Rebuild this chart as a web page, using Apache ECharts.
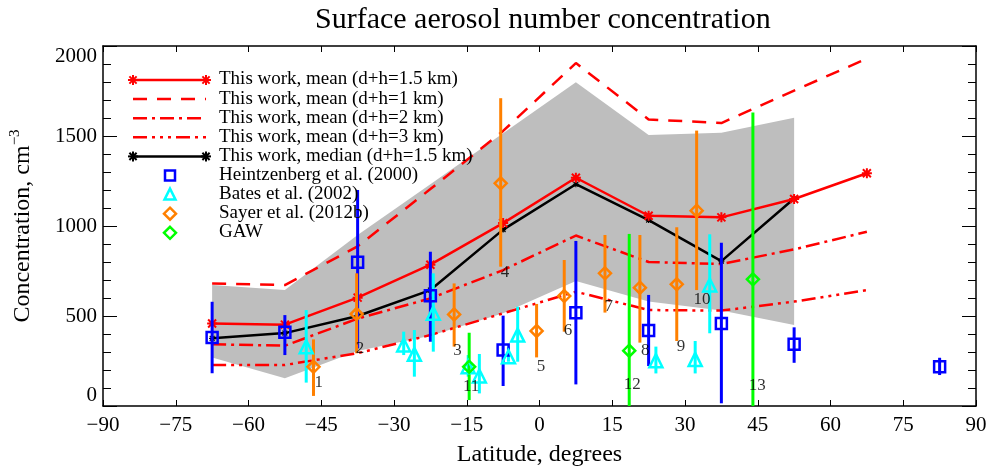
<!DOCTYPE html>
<html>
<head>
<meta charset="utf-8">
<script src="https://cdn.jsdelivr.net/npm/echarts@6/dist/echarts.min.js"></script>
<style>
  html, body { margin: 0; padding: 0; background: #fff; }
  #main { width: 990px; height: 466px; }
</style>
</head>
<body>
<div id="main"></div>
<script>
// model latitude bins (15 degree bands)
var binLat = [-67.5, -52.5, -37.5, -22.5, -7.5, 7.5, 22.5, 37.5, 52.5, 67.5];
var mean15 = [458, 452, 602, 785, 1016, 1268, 1057, 1048, 1150, 1293];
var mean1 = [681, 672, 887, 1205, 1528, 1905, 1592, 1572, 1752, 1930];
var mean2 = [343, 335, 485, 598, 755, 947, 800, 789, 870, 968];
var mean3 = [228, 228, 293, 394, 515, 635, 533, 530, 580, 644];
var medLat = [-67.5, -52.5, -37.5, -22.5, -7.5, 7.5, 22.5, 37.5, 52.5];
var median15 = [376, 405, 500, 644, 980, 1232, 1033, 805, 1153];
var bandUpper = [672, 644, 950, 1232, 1515, 1798, 1506, 1518, 1602];
var bandLower = [270, 154, 305, 390, 515, 694, 580, 530, 450];

// Heintzenberg et al. (2000): lat, value, low, high
var heinLat = [-67.5, -52.5, -37.5, -22.5, -7.5, 7.5, 22.5, 37.5, 52.5, 82.5];
var heinVal = [380, 410, 798, 613, 311, 518, 420, 459, 343, 218];
var heinLo = [182, 283, 320, 357, 111, 120, 222, 15, 240, 172];
var heinHi = [579, 505, 1200, 857, 502, 917, 617, 907, 437, 268];

// Bates et al. (2002)
var batesLat = [-48.1, -28.0, -25.8, -21.9, -14.7, -12.4, -6.4, -4.5, 24.0, 32.1, 35.1];
var batesVal = [329, 339, 287, 515, 218, 167, 274, 394, 252, 259, 672];
var batesLo = [130, 283, 163, 302, 163, 70, 246, 246, 181, 181, 404];
var batesHi = [533, 413, 422, 737, 283, 289, 330, 552, 330, 361, 954];

// Sayer et al. (2012b), sites 1-10
var sayerLat = [-46.6, -37.7, -17.6, -8.0, -0.6, 5.1, 13.5, 20.7, 28.3, 32.4];
var sayerVal = [218, 511, 509, 1237, 417, 611, 737, 657, 676, 1085];
var sayerLo = [56, 293, 330, 774, 270, 413, 519, 352, 361, 644];
var sayerHi = [370, 737, 681, 1710, 567, 811, 950, 950, 993, 1530];

// GAW, sites 11-13
var gawLat = [-14.5, 18.5, 44.0];
var gawVal = [218, 307, 704];
var gawLo = [33, 0, 0];
var gawHi = [407, 956, 1630];

// site number labels (text, lat, value at label centre)
var siteNames = ['1', '2', '3', '4', '5', '6', '7', '8', '9', '10', '11', '12', '13'];
var siteLabLat = [-45.5, -37.0, -16.9, -7.1, 0.3, 5.9, 14.3, 21.8, 29.2, 33.5, -14.1, 19.1, 44.9];
var siteLabVal = [133, 322, 306, 744, 217, 417, 550, 306, 333, 594, 106, 117, 111];

var RED = '#ff0000', BLUE = '#0000ff', CYAN = '#00ffff', ORANGE = '#ff8000', GREEN = '#00ff00';
var FONT = 'Liberation Serif';
var ASTERISK = 'path://M4,0L6,0L6,10L4,10ZM0,4L10,4L10,6L0,6Z' +
  'M0.3,1.7L1.7,0.3L9.7,8.3L8.3,9.7ZM8.3,0.3L9.7,1.7L1.7,9.7L0.3,8.3Z';

function zip2(a, b) {
  return a.map(function (v, i) { return [v, b[i]]; });
}
function zip4(a, b, c, d) {
  return a.map(function (v, i) { return [v, b[i], c[i], d[i]]; });
}

function errBars(name, color, lat, val, lo, hi) {
  return {
    name: name + ' err',
    type: 'custom',
    clip: true,
    z: 4,
    data: zip4(lat, val, lo, hi),
    encode: { x: 0, y: 1 },
    renderItem: function (params, api) {
      var p1 = api.coord([api.value(0), api.value(2)]);
      var p2 = api.coord([api.value(0), api.value(3)]);
      return {
        type: 'line',
        shape: { x1: p1[0], y1: p1[1], x2: p2[0], y2: p2[1] },
        style: { stroke: color, lineWidth: 3 }
      };
    }
  };
}

function marks(name, color, symbol, size, lat, val) {
  return {
    name: name,
    type: 'scatter',
    z: 5,
    symbol: symbol,
    symbolSize: size,
    data: zip2(lat, val),
    itemStyle: { color: 'rgba(0,0,0,0)', borderColor: color, borderWidth: 2.5, opacity: 1 }
  };
}

function modelLine(name, data, dash, color, lat, sym, symSize) {
  return {
    name: name,
    type: 'line',
    z: 3,
    data: zip2(lat || binLat, data),
    showSymbol: !!sym,
    symbol: sym || 'none',
    symbolSize: symSize || 0,
    itemStyle: { color: color || RED },
    lineStyle: { color: color || RED, width: 2.5, type: dash }
  };
}

var bandSeries = {
  type: 'custom',
  z: 1,
  data: [0],
  renderItem: function (params, api) {
    var pts = [];
    medLat.forEach(function (x, i) { pts.push(api.coord([x, bandUpper[i]])); });
    for (var i = medLat.length - 1; i >= 0; i--) pts.push(api.coord([medLat[i], bandLower[i]]));
    return { type: 'polygon', shape: { points: pts }, style: { fill: '#bebebe' } };
  }
};

var labelSeries = {
  type: 'scatter',
  z: 6,
  symbolSize: 0,
  data: siteNames.map(function (n, i) { return { name: n, value: [siteLabLat[i], siteLabVal[i]] }; }),
  label: {
    show: true, position: 'inside', formatter: '{b}',
    color: '#000', fontFamily: FONT, fontSize: 17
  }
};

// legend drawn by hand (line samples with end markers)
var legendRows = [
  { text: 'This work, mean (d+h=1.5 km)', kind: 'line', color: RED, dash: 'solid', ends: true },
  { text: 'This work, mean (d+h=1 km)', kind: 'line', color: RED, dash: [14, 10] },
  { text: 'This work, mean (d+h=2 km)', kind: 'line', color: RED, dash: [14, 5, 3, 5] },
  { text: 'This work, mean (d+h=3 km)', kind: 'line', color: RED, dash: [14, 5, 3, 5, 3, 5, 3, 5] },
  { text: 'This work, median (d+h=1.5 km)', kind: 'line', color: '#000', dash: 'solid', ends: true },
  { text: 'Heintzenberg et al. (2000)', kind: 'sym', color: BLUE, sym: 'rect' },
  { text: 'Bates et al. (2002)', kind: 'sym', color: CYAN, sym: 'triangle' },
  { text: 'Sayer et al. (2012b)', kind: 'sym', color: ORANGE, sym: 'diamond' },
  { text: 'GAW', kind: 'sym', color: GREEN, sym: 'diamond' }
];

function asteriskGraphic(cx, cy, color) {
  var g = [];
  var r = 5;
  [[r, 0], [0, r], [r * 0.72, r * 0.72], [r * 0.72, -r * 0.72]].forEach(function (d) {
    g.push({ type: 'line', shape: { x1: cx - d[0], y1: cy - d[1], x2: cx + d[0], y2: cy + d[1] },
      style: { stroke: color, lineWidth: 2 }, z: 100 });
  });
  return g;
}

function symGraphic(cx, cy, sym, color) {
  var pts;
  if (sym === 'rect') pts = [[cx - 5, cy - 5], [cx + 5, cy - 5], [cx + 5, cy + 5], [cx - 5, cy + 5]];
  else if (sym === 'triangle') pts = [[cx, cy - 6], [cx + 5.5, cy + 5], [cx - 5.5, cy + 5]];
  else pts = [[cx, cy - 6], [cx + 6, cy], [cx, cy + 6], [cx - 6, cy]];
  return { type: 'polygon', shape: { points: pts }, style: { fill: 'none', stroke: color, lineWidth: 2.5 }, z: 100 };
}

var legendGraphics = [];
legendRows.forEach(function (r, i) {
  var y = 80 + i * 19.1;
  if (r.kind === 'line') {
    legendGraphics.push({ type: 'line', shape: { x1: 133, y1: y, x2: 206, y2: y },
      style: { stroke: r.color, lineWidth: 2.5, lineDash: r.dash === 'solid' ? null : r.dash }, z: 100 });
    if (r.ends) {
      legendGraphics = legendGraphics.concat(asteriskGraphic(133, y, r.color), asteriskGraphic(206, y, r.color));
    }
  } else {
    legendGraphics.push(symGraphic(170, y, r.sym, r.color));
  }
  legendGraphics.push({ type: 'text', left: 219, top: y - 10, z: 100,
    style: { text: r.text, font: '19px "' + FONT + '"', fill: '#000' } });
});

function minus(v) { return String(v).replace('-', '\u2212'); }

var axisLineStyle = { color: '#000', width: 1.5 };

var option = {
  animation: false,
  backgroundColor: '#fff',
  title: {
    text: 'Surface aerosol number concentration',
    left: 310, top: 0,
    textStyle: { fontFamily: FONT, fontSize: 30, fontWeight: 'normal', color: '#000' }
  },
  grid: { left: 103, right: 14, top: 46, bottom: 60, outerBoundsMode: 'none', containLabel: false },
  xAxis: [{
    type: 'value', min: -90, max: 90, interval: 15,
    name: 'Latitude, degrees', nameLocation: 'middle', nameGap: 37,
    nameTextStyle: { fontFamily: FONT, fontSize: 24, color: '#000' },
    axisLine: { show: true, onZero: false, lineStyle: axisLineStyle },
    axisTick: { show: true, inside: true, length: 6, lineStyle: { color: '#000' } },
    axisLabel: { fontFamily: FONT, fontSize: 21, color: '#000', margin: 9, formatter: minus },
    splitLine: { show: false }
  }, {
    type: 'value', min: -90, max: 90, interval: 15, position: 'top',
    axisLine: { show: true, onZero: false, lineStyle: axisLineStyle },
    axisTick: { show: true, inside: true, length: 6, lineStyle: { color: '#000' } },
    axisLabel: { show: false },
    splitLine: { show: false }
  }],
  yAxis: [{
    type: 'value', min: 0, max: 2000, interval: 500,
    name: 'Concentration, cm{sup|\u22123}', nameLocation: 'middle', nameGap: 66, nameRotate: 90,
    nameTextStyle: { fontFamily: FONT, fontSize: 24, color: '#000',
      rich: { sup: { fontFamily: FONT, fontSize: 15, verticalAlign: 'top', padding: [0, 0, 14, 0] } } },
    axisLine: { show: true, onZero: false, lineStyle: axisLineStyle },
    axisTick: { show: true, inside: true, length: 14, lineStyle: { color: '#000' } },
    minorTick: { show: true, splitNumber: 5, length: 8, lineStyle: { color: '#000' } },
    axisLabel: { fontFamily: FONT, fontSize: 21, color: '#000', margin: 6,
      formatter: function (v) { return String(v); },
      verticalAlignMaxLabel: 'top', verticalAlignMinLabel: 'bottom' },
    splitLine: { show: false }
  }, {
    type: 'value', min: 0, max: 2000, interval: 500, position: 'right',
    axisLine: { show: true, onZero: false, lineStyle: axisLineStyle },
    axisTick: { show: true, inside: true, length: 14, lineStyle: { color: '#000' } },
    minorTick: { show: true, splitNumber: 5, length: 8, lineStyle: { color: '#000' } },
    axisLabel: { show: false },
    splitLine: { show: false }
  }],
  graphic: legendGraphics,
  series: [
    bandSeries,
    modelLine('mean 1 km', mean1, [14, 10]),
    modelLine('mean 2 km', mean2, [14, 5, 3, 5]),
    modelLine('mean 3 km', mean3, [14, 5, 3, 5, 3, 5, 3, 5]),
    modelLine('median 1.5 km', median15, 'solid', '#000', medLat, ASTERISK, 6),
    modelLine('mean 1.5 km', mean15, 'solid', RED, binLat, ASTERISK, 10),
    errBars('Heintzenberg', BLUE, heinLat, heinVal, heinLo, heinHi),
    errBars('Bates', CYAN, batesLat, batesVal, batesLo, batesHi),
    errBars('Sayer', ORANGE, sayerLat, sayerVal, sayerLo, sayerHi),
    errBars('GAW', GREEN, gawLat, gawVal, gawLo, gawHi),
    marks('Heintzenberg et al. (2000)', BLUE, 'rect', 11, heinLat, heinVal),
    marks('Bates et al. (2002)', CYAN, 'triangle', 13, batesLat, batesVal),
    marks('Sayer et al. (2012b)', ORANGE, 'diamond', 12, sayerLat, sayerVal),
    marks('GAW', GREEN, 'diamond', 12, gawLat, gawVal),
    labelSeries
  ]
};

var chart = echarts.init(document.getElementById('main'));
chart.setOption(option);
</script>
</body>
</html>
